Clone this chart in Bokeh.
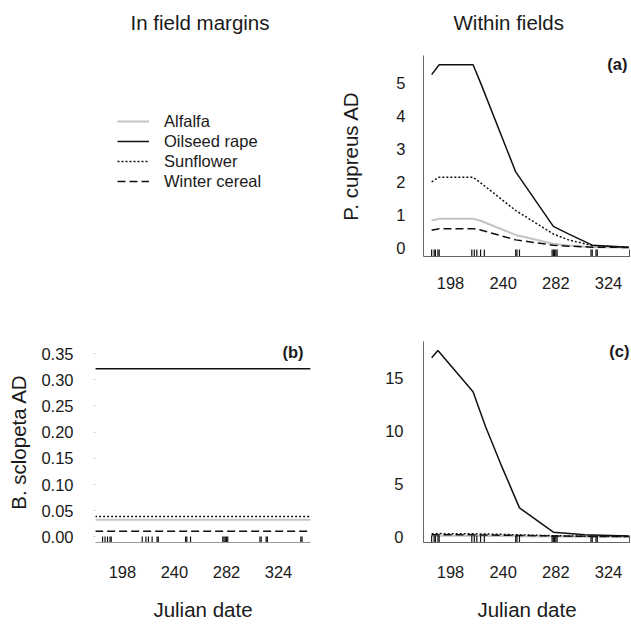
import numpy as np
from bokeh.plotting import figure
from bokeh.layouts import column, row
from bokeh.models import (Range1d, FixedTicker, NumeralTickFormatter, Legend,
                          LegendItem, Label)
from bokeh.embed import file_html
from bokeh.resources import INLINE

FONT = "Liberation Sans"
TXT = "#1a1a1a"
AXC = "#666666"

# ---------------- data ----------------
column_titles = ["In field margins", "Within fields"]
series_names = ["Alfalfa", "Oilseed rape", "Sunflower", "Winter cereal"]
x_ticks = [198, 240, 282, 324]
y_ticks_a = [0, 1, 2, 3, 4, 5]
y_ticks_b = [0.0, 0.05, 0.10, 0.15, 0.20, 0.25, 0.30, 0.35]
y_ticks_c = [0, 5, 10, 15]

# (a) P. cupreus, within fields
dates_a = [183, 189, 216, 222, 250, 280, 292, 311, 340]
alfalfa_a = [0.83, 0.88, 0.88, 0.82, 0.39, 0.12, 0.07, 0.02, 0.01]
oilseed_a = [5.25, 5.55, 5.55, 5.00, 2.30, 0.65, 0.42, 0.08, 0.02]
sunflower_a = [2.00, 2.14, 2.14, 1.97, 1.13, 0.42, 0.24, 0.07, 0.01]
cereal_a = [0.53, 0.58, 0.58, 0.54, 0.24, 0.08, 0.05, 0.02, 0.01]

# (b) B. sclopeta, in field margins
dates_b = [176, 350]
alfalfa_b = [0.033, 0.033]
oilseed_b = [0.321, 0.321]
sunflower_b = [0.039, 0.039]
cereal_b = [0.011, 0.011]

# (c) B. sclopeta, within fields
dates_c = [183, 188, 216, 226, 238, 253, 280, 305, 340]
alfalfa_c = [0.12, 0.13, 0.12, 0.10, 0.09, 0.07, 0.05, 0.03, 0.02]
oilseed_c = [16.9, 17.6, 13.7, 10.4, 6.9, 2.75, 0.45, 0.20, 0.10]
sunflower_c = [0.30, 0.32, 0.30, 0.28, 0.25, 0.20, 0.12, 0.08, 0.05]
cereal_c = [0.20, 0.22, 0.20, 0.19, 0.17, 0.14, 0.10, 0.06, 0.04]

# sampling dates (rug)
rug_within = [183, 185, 186, 188, 189, 215, 217, 219, 222, 225,
              250, 251, 253, 279, 280, 281, 282, 283, 310, 311, 314, 315, 341]
rug_margin = [182, 184, 186, 188, 189, 214, 217, 219, 222, 226, 227,
              249, 250, 253, 279, 280, 281, 282, 283, 309, 310, 314, 315, 342, 343]

STYLE = {
    "Alfalfa": dict(line_color="#c4c4c4", line_width=2.0, line_dash="solid"),
    "Oilseed rape": dict(line_color="#111111", line_width=1.5, line_dash="solid"),
    "Sunflower": dict(line_color="#111111", line_width=1.5, line_dash="2 2"),
    "Winter cereal": dict(line_color="#111111", line_width=1.5, line_dash="8 4"),
}

TICK_FS = "16.5px"
LAB_FS = "20.5px"


def base_fig(xr, yr, left, fw, right, top, fh, bottom, axes=True):
    kw = {}
    if not axes:
        kw = dict(x_axis_type=None, y_axis_type=None)
    p = figure(width=left + fw + right, height=top + fh + bottom,
               x_range=Range1d(*xr), y_range=Range1d(*yr),
               min_border_left=left, min_border_right=right,
               min_border_top=top, min_border_bottom=bottom,
               output_backend="svg", toolbar_location=None, **kw)
    p.grid.visible = False
    p.outline_line_color = None
    p.background_fill_color = "white"
    p.border_fill_color = "white"
    for ax in p.axis:
        ax.axis_line_color = AXC
        ax.axis_line_width = 1
        ax.major_tick_out = 0
        ax.major_tick_in = 0
        ax.minor_tick_out = 0
        ax.minor_tick_in = 0
        ax.major_label_text_font = FONT
        ax.major_label_text_font_size = TICK_FS
        ax.major_label_text_color = TXT
        ax.axis_label_text_font = FONT
        ax.axis_label_text_font_size = LAB_FS
        ax.axis_label_text_font_style = "normal"
        ax.axis_label_text_color = TXT
    if axes:
        p.xaxis.ticker = FixedTicker(ticks=x_ticks)
    return p


def draw_series(p, dates, vals):
    rs = []
    for name, v in zip(series_names, vals):
        rs.append(p.line(x=dates, y=v, **STYLE[name]))
    return rs


def draw_rug(p, dates, yr, length):
    p.ray(x=dates, y=[yr[0]] * len(dates), length=length, angle=np.pi / 2,
          length_units="screen", line_color="#111111", line_width=1.2)


def panel_label(p, xr, yr, text, dx, dy):
    p.add_layout(Label(x=xr[1], y=yr[1], x_offset=dx, y_offset=dy, text=text,
                       text_align="right", text_baseline="top",
                       text_font=FONT, text_font_size="16.5px",
                       text_font_style="bold", text_color=TXT))


# ---------------- title strip ----------------
xr_t = (0, 1)
yr_t = (0, 1)
pt = base_fig(xr_t, yr_t, 0, 630, 0, 0, 40, 0, axes=False)
for txt, dx in zip(column_titles, [130, 453]):
    pt.add_layout(Label(x=xr_t[0], y=yr_t[0], x_offset=dx, y_offset=18,
                        text=txt, text_align="left", text_baseline="alphabetic",
                        text_font=FONT, text_font_size=LAB_FS, text_color=TXT))

# ---------------- top-left: legend only ----------------
xr_l = (0, 1)
yr_l = (0, 1)
pl = base_fig(xr_l, yr_l, 95, 215, 20, 15, 201, 54, axes=False)
# legend renderers: the margin series, lying outside this empty frame
leg_rs = draw_series(pl, dates_b, [alfalfa_b, oilseed_b, sunflower_b, cereal_b])
items = [LegendItem(label=n, renderers=[r]) for n, r in zip(series_names, leg_rs)]
leg = Legend(items=items, location=(22, 65), glyph_width=32, glyph_height=20,
             label_height=20, label_standoff=15, spacing=0, padding=0, margin=0,
             label_text_font=FONT, label_text_font_size="16.5px",
             label_text_color=TXT, border_line_color=None,
             background_fill_alpha=0)
pl.add_layout(leg)

# ---------------- (a) ----------------
xr_a = (176.5, 341.5)
yr_a = (-0.264, 5.83)
pa = base_fig(xr_a, yr_a, 93, 207, 0, 15, 201, 54)
pa.yaxis.ticker = FixedTicker(ticks=y_ticks_a)
pa.yaxis.axis_label = "P. cupreus AD"
pa.yaxis.major_label_standoff = 18
pa.yaxis.axis_label_standoff = 31
pa.xaxis.major_label_standoff = 20
draw_series(pa, dates_a, [alfalfa_a, oilseed_a, sunflower_a, cereal_a])
draw_rug(pa, rug_within, yr_a, 7)
panel_label(pa, xr_a, yr_a, "(a)", -3, 1)

# ---------------- (b) ----------------
xr_b = (176.3, 349.8)
yr_b = (-0.0105, 0.373)
pb = base_fig(xr_b, yr_b, 95, 215, 20, 31, 201, 83)
pb.yaxis.ticker = FixedTicker(ticks=y_ticks_b)
pb.yaxis.formatter = NumeralTickFormatter(format="0.00")
pb.yaxis.axis_line_color = None
pb.yaxis.major_tick_out = 2
pb.yaxis.major_tick_line_color = "#cccccc"
pb.yaxis.axis_label = "B. sclopeta AD"
pb.yaxis.major_label_standoff = 20
pb.yaxis.axis_label_standoff = 8
pb.xaxis.axis_line_color = "#999999"
pb.xaxis.axis_label = "Julian date"
pb.xaxis.major_label_standoff = 23
pb.xaxis.axis_label_standoff = 17
draw_series(pb, dates_b, [alfalfa_b, oilseed_b, sunflower_b, cereal_b])
draw_rug(pb, rug_margin, yr_b, 6)
panel_label(pb, xr_b, yr_b, "(b)", -7, -1)

# ---------------- (c) ----------------
xr_c = (176.5, 341.5)
yr_c = (-0.52, 18.44)
pc = base_fig(xr_c, yr_c, 93, 207, 0, 31, 201, 83)
pc.yaxis.ticker = FixedTicker(ticks=y_ticks_c)
pc.yaxis.major_label_standoff = 20
pc.xaxis.axis_label = "Julian date"
pc.xaxis.major_label_standoff = 23
pc.xaxis.axis_label_standoff = 17
draw_series(pc, dates_c, [alfalfa_c, oilseed_c, sunflower_c, cereal_c])
draw_rug(pc, rug_within, yr_c, 7)
panel_label(pc, xr_c, yr_c, "(c)", -1, 0)

layout = column(pt, row(pl, pa), row(pb, pc))
open("out.html", "w").write(file_html(layout, INLINE))
